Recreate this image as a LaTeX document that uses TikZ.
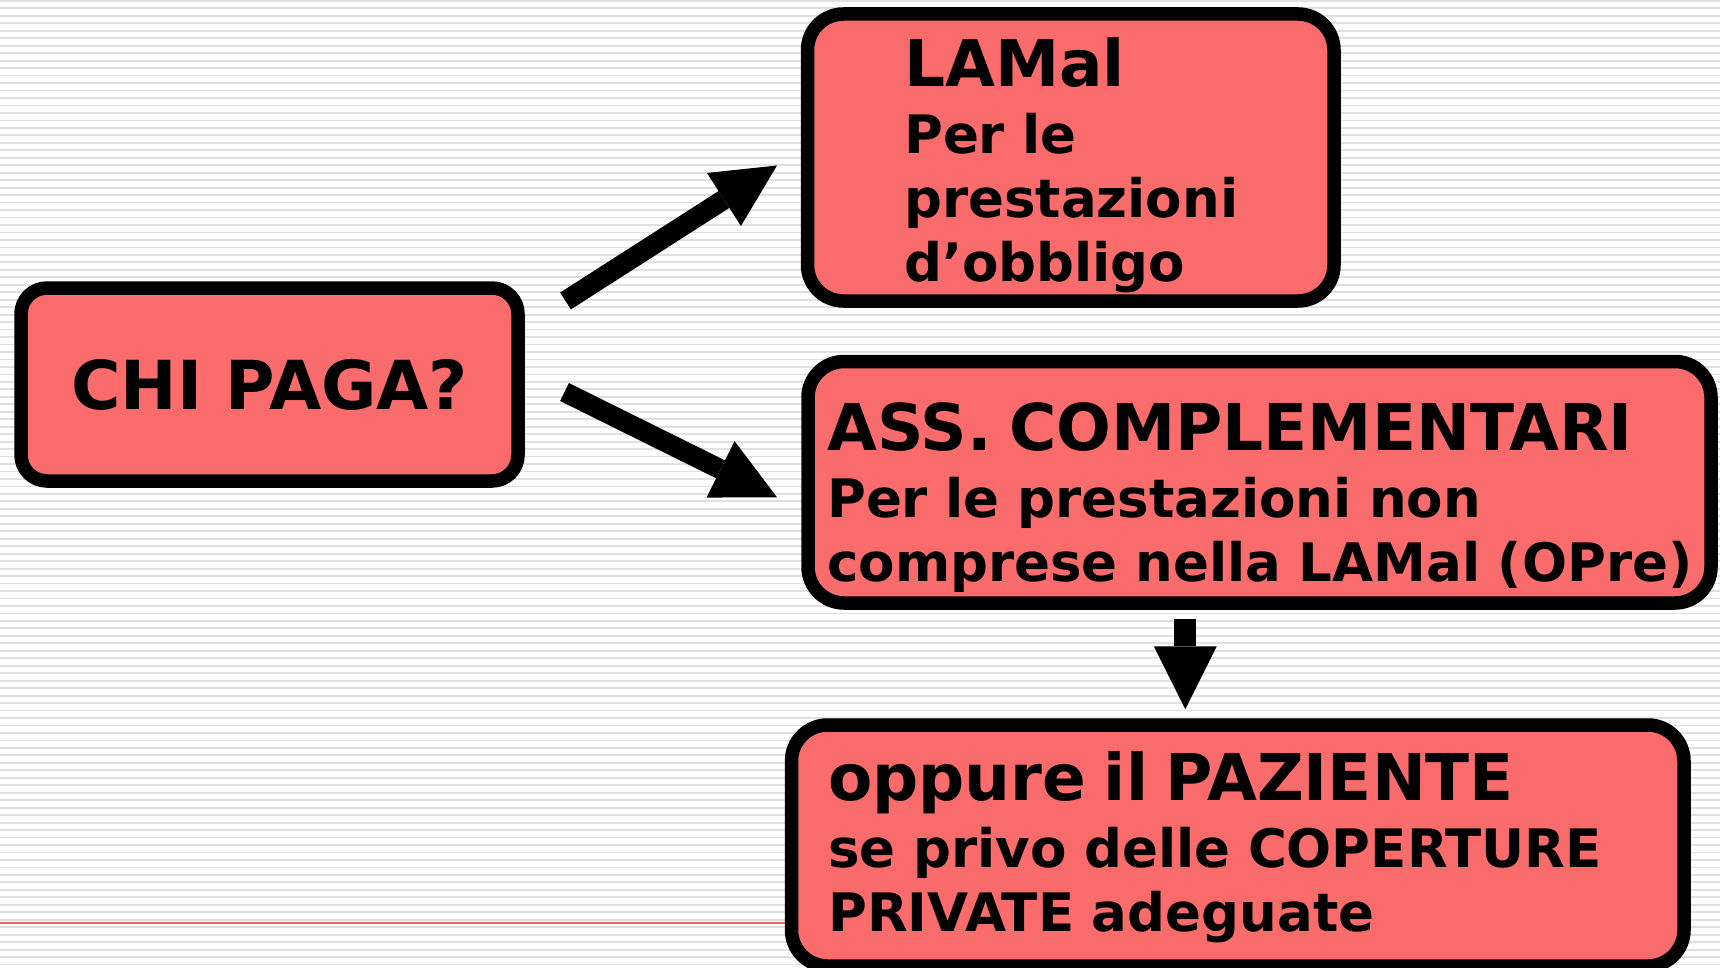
\documentclass[tikz,border=0pt]{standalone}
\usepackage{fontspec}
\setmainfont{DejaVu Sans}
\usetikzlibrary{arrows.meta}

\definecolor{boxred}{RGB}{250,107,107}
\definecolor{stripegray}{RGB}{224,224,224}
\definecolor{rulered}{RGB}{228,104,104}

\tikzset{
    redbox/.style={draw=black, fill=boxred, line width=13.5pt, rounded corners=36pt, inner sep=0pt},
    boxtext/.style={inner sep=0pt, anchor=base west, text width=1000pt, align=left,
        font=\bfseries\fontsize{53}{64}\selectfont},
    bigarrow/.style={line width=20pt, -{Triangle[length=63pt, width=63pt, line width=0pt]}}
}
\newcommand{\boxtitle}[1]{{\fontsize{64.5}{64}\selectfont #1}\\[3pt]}

\begin{document}
\begin{tikzpicture}[x=1pt, y=-1pt]
    \useasboundingbox (0, 0) rectangle (1720, 968);

    % striped background
    \fill[white] (0, 0) rectangle (1720, 968);
    \foreach \k in {0,...,129}
        \draw[stripegray, line width=1.8pt] (0, {0.9+7.47*\k}) -- (1720, {0.9+7.47*\k});
    \draw[rulered, line width=2pt] (0, 922.7) -- (795, 922.7);

    \node[redbox, rounded corners=26pt, minimum width=497pt, minimum height=193pt,
        font=\bfseries\fontsize{67.5}{70}\selectfont] (chi) at (269.5, 384.5) {CHI PAGA?};
    \node[redbox, minimum width=526.5pt, minimum height=287pt] (lamal) at (1070.75, 157.5) {};
    \node[redbox, minimum width=903pt, minimum height=241.5pt] (compl) at (1259.5, 482.25) {};
    \node[redbox, minimum width=892.5pt, minimum height=241pt] (paziente) at (1237.75, 845.5) {};

    \node[boxtext] (lamaltext) at (904, 87) {\boxtitle{LAMal}Per le\\prestazioni\\d’obbligo};
    \node[boxtext] (compltext) at (827, 450.7) {\boxtitle{ASS. COMPLEMENTARI}Per le prestazioni non\\comprese nella LAMal (OPre)};
    \node[boxtext] (pazientetext) at (828, 800) {\boxtitle{oppure il PAZIENTE}se privo delle COPERTURE\\PRIVATE adeguate};

    % block arrows
    \coordinate (chiup) at (565.5, 301);
    \coordinate (lamalin) at (777, 165.5);
    \coordinate (chidown) at (564.5, 392);
    \coordinate (complin) at (777, 497.3);
    \coordinate (complout) at (1185.3, 619);
    \coordinate (pazientein) at (1185.3, 709.3);

    \draw[bigarrow] (chiup) -- (lamalin);
    \draw[bigarrow] (chidown) -- (complin);
    \draw[bigarrow, line width=22pt] (complout) -- (pazientein);
\end{tikzpicture}
\end{document}
